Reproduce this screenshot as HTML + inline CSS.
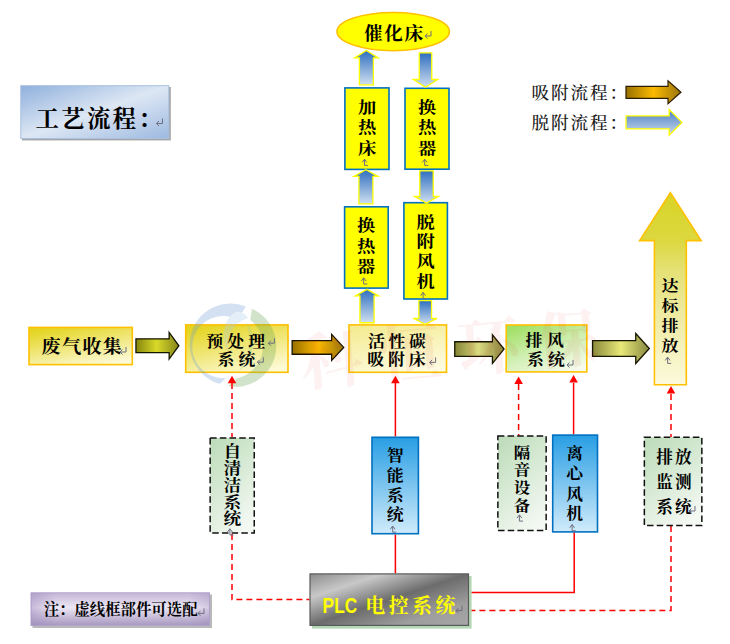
<!DOCTYPE html>
<html lang="zh-CN"><head><meta charset="utf-8"><title>工艺流程</title>
<style>
html,body{margin:0;padding:0;background:#fff}
svg{display:block}
.kai{font-family:"Liberation Serif","Noto Serif CJK SC",serif}
.song{font-family:"Liberation Serif","Noto Serif CJK SC",serif}
.sans{font-family:"Liberation Sans","Noto Sans CJK SC",sans-serif}
</style></head><body>
<svg width="730" height="644" viewBox="0 0 730 644">
<defs>
<linearGradient id="gTitle" x1="0" y1="0" x2="1" y2="1"><stop offset="0" stop-color="#8fb0dc"/><stop offset=".5" stop-color="#dde7f4"/><stop offset="1" stop-color="#9db9e0"/></linearGradient>
<linearGradient id="gYel" x1=".25" y1="0" x2=".75" y2="1"><stop offset="0" stop-color="#e4d522"/><stop offset="1" stop-color="#fdfad8"/></linearGradient>
<linearGradient id="gYel2" x1=".3" y1="0" x2=".7" y2="1"><stop offset="0" stop-color="#f4ec94"/><stop offset="1" stop-color="#fdfbe2"/></linearGradient>
<linearGradient id="gGrn" x1=".2" y1="0" x2=".8" y2="1"><stop offset="0" stop-color="#a2e066"/><stop offset=".5" stop-color="#d0efb2"/><stop offset="1" stop-color="#f6fbee"/></linearGradient>
<linearGradient id="gDash" x1=".25" y1="0" x2=".75" y2="1"><stop offset="0" stop-color="#c0debd"/><stop offset="1" stop-color="#f5f9f4"/></linearGradient>
<linearGradient id="gBlueBox" x1="0" y1="0" x2="0" y2="1"><stop offset="0" stop-color="#289ee4"/><stop offset="1" stop-color="#d0ebfb"/></linearGradient>
<linearGradient id="gOlive" x1="0" y1="0" x2="1" y2="0"><stop offset="0" stop-color="#85850c"/><stop offset=".48" stop-color="#d9d92a"/><stop offset="1" stop-color="#85851a"/></linearGradient>
<linearGradient id="gGold" x1="0" y1="0" x2="1" y2="0"><stop offset="0" stop-color="#987000"/><stop offset=".5" stop-color="#fbba00"/><stop offset="1" stop-color="#98740c"/></linearGradient>
<linearGradient id="gKhaki" x1="0" y1="0" x2="1" y2="0"><stop offset="0" stop-color="#848434"/><stop offset=".48" stop-color="#dada80"/><stop offset="1" stop-color="#86863e"/></linearGradient>
<linearGradient id="gKhaki2" x1="0" y1="0" x2="1" y2="0"><stop offset="0" stop-color="#8a8a3c"/><stop offset=".5" stop-color="#e8e878"/><stop offset="1" stop-color="#888842"/></linearGradient>
<linearGradient id="gUp" x1="0" y1="0" x2="0" y2="1"><stop offset="0" stop-color="#2f6fc0"/><stop offset="1" stop-color="#cfdff0"/></linearGradient>
<linearGradient id="gLegBlue" x1="0" y1="0" x2="0" y2="1"><stop offset="0" stop-color="#4a7fc4"/><stop offset="1" stop-color="#cbd9ec"/></linearGradient>
<linearGradient id="gBig" x1="0" y1="0" x2="0" y2="1"><stop offset="0" stop-color="#d8d426"/><stop offset=".25" stop-color="#dcd840"/><stop offset=".4" stop-color="#e5e174"/><stop offset=".6" stop-color="#ede99c"/><stop offset="1" stop-color="#fcfadc"/></linearGradient>
<linearGradient id="gPLC" x1="0" y1="0" x2="1" y2="1"><stop offset="0" stop-color="#8c8c8c"/><stop offset=".23" stop-color="#c8c8c8"/><stop offset=".5" stop-color="#6c6c6c"/><stop offset=".78" stop-color="#9e9e9e"/><stop offset="1" stop-color="#a6a6a6"/></linearGradient>
<linearGradient id="gNoteH" x1="0" y1="0" x2="1" y2="0"><stop offset="0" stop-color="#9a86ba" stop-opacity=".45"/><stop offset=".14" stop-color="#9a86ba" stop-opacity="0"/><stop offset=".88" stop-color="#9a86ba" stop-opacity="0"/><stop offset="1" stop-color="#9a86ba" stop-opacity=".3"/></linearGradient>
<linearGradient id="gNote" x1="0" y1="0" x2="0" y2="1"><stop offset="0" stop-color="#c3b6d6"/><stop offset=".45" stop-color="#ece7f4"/><stop offset="1" stop-color="#a797c0"/></linearGradient>
</defs>
<rect width="730" height="644" fill="#fff"/>

<rect x="22" y="87" width="148.8" height="53.4" fill="#7f7f7f" opacity=".7"/>
<rect x="20.8" y="85.7" width="148.00" height="52.80" fill="url(#gTitle)" stroke="#a9c0e0" stroke-width="1"/>
<text x="35.5" y="126.5" font-size="23.5" font-weight="700" fill="#000" text-anchor="start" class="kai" letter-spacing="2.2">工艺流程：</text>
<path d="M162.5 118.5V123.5H156.5M159.0 121.0L156.5 123.5L159.0 126.0" fill="none" stroke="#6e6e80" stroke-width="1"/>
<text x="531.5" y="98.8" font-size="17.6" font-weight="500" fill="#1a1a1a" text-anchor="start" class="song" letter-spacing="1.9">吸附流程：</text>
<text x="531.5" y="128.8" font-size="17.6" font-weight="500" fill="#1a1a1a" text-anchor="start" class="song" letter-spacing="1.9">脱附流程：</text>
<path d="M626.0 86.3H668.0V80.83L680.99 92.3L668.0 103.77V98.3H626.0Z" fill="url(#gGold)" stroke="#2a1c00" stroke-width="1.2" stroke-linejoin="miter"/>
<path d="M626.05 115.95H669.15V109.57000000000001L681.98 122.4L669.15 135.23000000000002V128.85H626.05Z" fill="url(#gLegBlue)" stroke="#ffff00" stroke-width="1.3" stroke-linejoin="miter"/>
<ellipse cx="393.2" cy="31.6" rx="56.2" ry="19.1" fill="#ffff00" stroke="#ffc000" stroke-width="1.6"/>
<text x="364" y="39.6" font-size="18.6" font-weight="700" fill="#000" text-anchor="start" class="kai" letter-spacing="1.6">催化床</text>
<path d="M431 31V36H425M427.5 33.5L425 36L427.5 38.5" fill="none" stroke="#6e6e80" stroke-width="1"/>
<rect x="344.9" y="87.9" width="44.10" height="81.50" fill="#ffff00" stroke="#0070c0" stroke-width="1.6"/>
<text transform="translate(367.0 0) scale(1.14 1)" font-size="16" font-weight="700" fill="#000" text-anchor="middle" class="kai"><tspan x="0" y="112.7">加</tspan><tspan x="0" y="133.1">热</tspan><tspan x="0" y="153.7">床</tspan></text><path d="M362.1 162.4L364.5 159.20000000000002L366.9 162.4M364.5 159.20000000000002V165.4H368.1" fill="none" stroke="#6e6e80" stroke-width="1"/>
<rect x="405.0" y="88.3" width="44.00" height="80.90" fill="#ffff00" stroke="#0070c0" stroke-width="1.6"/>
<text transform="translate(427.2 0) scale(1.14 1)" font-size="16" font-weight="700" fill="#000" text-anchor="middle" class="kai"><tspan x="0" y="112.7">换</tspan><tspan x="0" y="133.1">热</tspan><tspan x="0" y="153.7">器</tspan></text><path d="M422.3 162.4L424.7 159.20000000000002L427.09999999999997 162.4M424.7 159.20000000000002V165.4H428.3" fill="none" stroke="#6e6e80" stroke-width="1"/>
<rect x="344.6" y="206.8" width="43.60" height="81.30" fill="#ffff00" stroke="#0070c0" stroke-width="1.6"/>
<text transform="translate(366.2 0) scale(1.14 1)" font-size="16" font-weight="700" fill="#000" text-anchor="middle" class="kai"><tspan x="0" y="231.5">换</tspan><tspan x="0" y="251.9">热</tspan><tspan x="0" y="272.3">器</tspan></text><path d="M361.3 281.0L363.7 277.79999999999995L366.09999999999997 281.0M363.7 277.79999999999995V284.0H367.3" fill="none" stroke="#6e6e80" stroke-width="1"/>
<rect x="403.9" y="202.7" width="43.50" height="96.30" fill="#ffff00" stroke="#0070c0" stroke-width="1.6"/>
<text transform="translate(425.6 0) scale(1.14 1)" font-size="16" font-weight="700" fill="#000" text-anchor="middle" class="kai"><tspan x="0" y="227.7">脱</tspan><tspan x="0" y="247.1">附</tspan><tspan x="0" y="267.3">风</tspan><tspan x="0" y="286.9">机</tspan></text><path d="M420.70000000000005 295.6L423.1 292.4L425.5 295.6M423.1 292.4V298.6H426.70000000000005" fill="none" stroke="#6e6e80" stroke-width="1"/>
<rect x="29.0" y="327.4" width="103.30" height="37.20" fill="url(#gYel)" stroke="#ffc000" stroke-width="1.6"/>
<text transform="translate(41.4 353.4) scale(1.03 1)" font-size="18.6" font-weight="700" fill="#000" text-anchor="start" class="kai" letter-spacing="1.3">废气收集</text>
<path d="M126 347V352H120M122.5 349.5L120 352L122.5 354.5" fill="none" stroke="#6e6e80" stroke-width="1"/>
<rect x="185.7" y="324.9" width="102.30" height="47.40" fill="url(#gYel)" stroke="#ffc000" stroke-width="1.6"/>
<g opacity=".3"><path d="M245.9 306.6A40.8 40.8 0 1 0 220.0 383.8L225.9 377.9A31 31 0 1 1 237.8 319.6Z" fill="#6f9fd6"/><path d="M236 312C224 318 220 336 228 352C226 336 232 324 248 318C245 313 240 311 236 312Z" fill="#a9cdf0"/><path d="M251.9 308.7A40.8 40.8 0 0 1 228.2 386.2L236.9 378.3A33 33 0 0 0 250.3 320.0Z" fill="#6aa652"/><path d="M246 322C258 336 256 358 238 372C250 356 252 338 246 322Z" fill="#a4cc8c"/></g>
<text transform="translate(206.2 346.8) scale(1.08 1)" font-size="15.6" font-weight="700" fill="#000" text-anchor="start" class="kai" letter-spacing="3.85">预处理</text>
<text transform="translate(217.6 364.8) scale(1.08 1)" font-size="15.6" font-weight="700" fill="#000" text-anchor="start" class="kai" letter-spacing="3.85">系统</text>
<path d="M274.4 338.2V343.2H268.4M270.9 340.7L268.4 343.2L270.9 345.7" fill="none" stroke="#6e6e80" stroke-width="1"/>
<path d="M263.3 357.2V362.2H257.3M259.8 359.7L257.3 362.2L259.8 364.7" fill="none" stroke="#6e6e80" stroke-width="1"/>
<rect x="349.0" y="324.9" width="97.50" height="47.40" fill="url(#gYel2)" stroke="#ffc000" stroke-width="1.6"/>
<text transform="translate(367.9 346.8) scale(1.08 1)" font-size="15.6" font-weight="700" fill="#000" text-anchor="start" class="kai" letter-spacing="3.4">活性碳</text>
<text transform="translate(367.2 364.8) scale(1.08 1)" font-size="15.6" font-weight="700" fill="#000" text-anchor="start" class="kai" letter-spacing="3.6">吸附床</text>
<path d="M435.6 357.4V362.4H429.6M432.1 359.9L429.6 362.4L432.1 364.9" fill="none" stroke="#6e6e80" stroke-width="1"/>
<rect x="506.2" y="325.0" width="80.60" height="46.90" fill="url(#gGrn)" stroke="#ffc000" stroke-width="1.6"/>
<text transform="translate(525.6 346.4) scale(1.08 1)" font-size="15.6" font-weight="700" fill="#000" text-anchor="start" class="kai" letter-spacing="4.3">排风</text>
<text transform="translate(527 364.6) scale(1.08 1)" font-size="15.6" font-weight="700" fill="#000" text-anchor="start" class="kai" letter-spacing="3.85">系统</text>
<path d="M573 360V365H567M569.5 362.5L567 365L569.5 367.5" fill="none" stroke="#6e6e80" stroke-width="1"/>
<path d="M359.4 84.85V57.85H354.66999999999996L366.4 50.52L378.13 57.85H373.4V84.85Z" fill="url(#gUp)" stroke="#ffff00" stroke-width="1.3" stroke-linejoin="miter"/>
<path d="M419.25 52.85V79.5H413.25L425.5 87.23L437.75 79.5H431.75V52.85Z" fill="url(#gUp)" stroke="#ffff00" stroke-width="1.3" stroke-linejoin="miter"/>
<path d="M358.9 203.95V176.45H353.87L365.9 169.65L377.92999999999995 176.45H372.9V203.95Z" fill="url(#gUp)" stroke="#ffff00" stroke-width="1.3" stroke-linejoin="miter"/>
<path d="M419.75 170.85V196.35H414.64L426.5 203.15L438.36 196.35H433.25V170.85Z" fill="url(#gUp)" stroke="#ffff00" stroke-width="1.3" stroke-linejoin="miter"/>
<path d="M359.9 322.75V295.85H355.47L367 289.35L378.53 295.85H374.1V322.75Z" fill="url(#gUp)" stroke="#ffff00" stroke-width="1.3" stroke-linejoin="miter"/>
<path d="M418.84999999999997 300.65V318.45H413.31L425.2 324.37L437.09 318.45H431.55V300.65Z" fill="url(#gUp)" stroke="#ffff00" stroke-width="1.3" stroke-linejoin="miter"/>
<path d="M135.95 338.8H169.15V332.44L178.89 345.75L169.15 359.06V352.7H135.95Z" fill="url(#gOlive)" stroke="#151500" stroke-width="1.3" stroke-linejoin="miter"/>
<path d="M292.15 340.54999999999995H331.65V334.35999999999996L343.71 347.4L331.65 360.44V354.25H292.15Z" fill="url(#gGold)" stroke="#1c1400" stroke-width="1.3" stroke-linejoin="miter"/>
<path d="M454.75 341.75H492.45V334.83000000000004L504.06 349.1L492.45 363.37V356.45000000000005H454.75Z" fill="url(#gKhaki)" stroke="#151500" stroke-width="1.3" stroke-linejoin="miter"/>
<path d="M592.55 340.55H635.75V333.44L649.32 348.5L635.75 363.56V356.45H592.55Z" fill="url(#gKhaki2)" stroke="#151500" stroke-width="1.3" stroke-linejoin="miter"/>
<path d="M654.4 384.8V240.6H639.6L670.4 192.8L701.2 240.6H686.3V384.8Z" fill="url(#gBig)" stroke="#ffc000" stroke-width="1.6" stroke-linejoin="miter"/>
<text transform="translate(670.1 0) scale(1.12 1)" font-size="15.2" font-weight="700" fill="#000" text-anchor="middle" class="kai"><tspan x="0" y="291.4">达</tspan><tspan x="0" y="311.2">标</tspan><tspan x="0" y="330.6">排</tspan><tspan x="0" y="350.8">放</tspan></text><path d="M665.2 360.40000000000003L667.6 357.2L670.0 360.40000000000003M667.6 357.2V363.40000000000003H671.2" fill="none" stroke="#6e6e80" stroke-width="1"/>
<g fill="none" stroke="#ff0000" stroke-width="1.5">
<path d="M232 383V437M232 534V599.6H309.4" stroke-dasharray="6 4"/>
<path d="M395.4 383V436.5M395.4 534.5V573.3"/>
<path d="M518.6 384V436" stroke-dasharray="6 4"/>
<path d="M573.6 383V434.3M574.2 532.3V592.4H469"/>
<path d="M671 394V437M671 526V610.4H469" stroke-dasharray="6 4"/>
</g>
<path d="M232 375.8L227.7 383.3H236.3Z" fill="#ff0000"/>
<path d="M395.4 375.8L391.09999999999997 383.3H399.7Z" fill="#ff0000"/>
<path d="M518.6 376.4L514.3000000000001 383.9H522.9Z" fill="#ff0000"/>
<path d="M573.6 375L569.3000000000001 382.5H577.9Z" fill="#ff0000"/>
<path d="M671 386L666.7 393.5H675.3Z" fill="#ff0000"/>
<rect x="210.15" y="437.95" width="44.10" height="95.00" fill="url(#gDash)" stroke="#111" stroke-width="1.5" stroke-dasharray="6.5 3.2"/>
<text transform="translate(232.4 0) scale(1.15 1)" font-size="15.4" font-weight="700" fill="#000" text-anchor="middle" class="kai"><tspan x="0" y="457.5">自</tspan><tspan x="0" y="474.1">清</tspan><tspan x="0" y="490.7">洁</tspan><tspan x="0" y="508.3">系</tspan><tspan x="0" y="524.4">统</tspan></text><path d="M227.5 532.0000000000001L229.9 528.8000000000001L232.3 532.0000000000001M229.9 528.8000000000001V535.0000000000001H233.5" fill="none" stroke="#6e6e80" stroke-width="1"/>
<rect x="372.0" y="437.3" width="46.40" height="96.40" fill="url(#gBlueBox)" stroke="#0070c0" stroke-width="1.6"/>
<text transform="translate(395.2 0) scale(1.06 1)" font-size="16" font-weight="700" fill="#000" text-anchor="middle" class="kai"><tspan x="0" y="461.1">智</tspan><tspan x="0" y="480.7">能</tspan><tspan x="0" y="500.9">系</tspan><tspan x="0" y="520.5">统</tspan></text><path d="M390.3 529.2L392.7 526.0L395.09999999999997 529.2M392.7 526.0V532.2H396.3" fill="none" stroke="#6e6e80" stroke-width="1"/>
<rect x="497.85" y="436.05" width="48.30" height="94.40" fill="url(#gDash)" stroke="#111" stroke-width="1.5" stroke-dasharray="6.5 3.2"/>
<text transform="translate(521.9 0) scale(1.1 1)" font-size="15" font-weight="700" fill="#000" text-anchor="middle" class="kai"><tspan x="0" y="457.6">隔</tspan><tspan x="0" y="475.2">音</tspan><tspan x="0" y="493.4">设</tspan><tspan x="0" y="511.1">备</tspan></text><path d="M517.0 518.1L519.4 514.9L521.8 518.1M519.4 514.9V521.1H523.0" fill="none" stroke="#6e6e80" stroke-width="1"/>
<rect x="552.7" y="435.1" width="44.80" height="96.80" fill="url(#gBlueBox)" stroke="#0070c0" stroke-width="1.6"/>
<text transform="translate(574.6 0) scale(1.08 1)" font-size="15.5" font-weight="700" fill="#000" text-anchor="middle" class="kai"><tspan x="0" y="459.0">离</tspan><tspan x="0" y="479.2">心</tspan><tspan x="0" y="500.0">风</tspan><tspan x="0" y="519.1">机</tspan></text><path d="M569.7 527.75L572.1 524.55L574.5 527.75M572.1 524.55V530.75H575.7" fill="none" stroke="#6e6e80" stroke-width="1"/>
<rect x="644.35" y="437.25" width="57.50" height="88.20" fill="url(#gDash)" stroke="#111" stroke-width="1.5" stroke-dasharray="6.5 3.2"/>
<text x="656.3" y="462.6" font-size="16.6" font-weight="700" fill="#000" text-anchor="start" class="kai" letter-spacing="2.1">排放</text>
<text x="656.3" y="488" font-size="16.6" font-weight="700" fill="#000" text-anchor="start" class="kai" letter-spacing="2.1">监测</text>
<text x="656.3" y="513" font-size="16.6" font-weight="700" fill="#000" text-anchor="start" class="kai" letter-spacing="2.1">系统</text>
<path d="M695 506V511H689M691.5 508.5L689 511L691.5 513.5" fill="none" stroke="#6e6e80" stroke-width="1"/>
<rect x="312" y="576" width="159.6" height="52.6" fill="#b4d8b4"/>
<rect x="310.0" y="573.9" width="158.50" height="51.50" fill="url(#gPLC)" stroke="#5a5a5a" stroke-width="1.2"/>
<text x="322.6" y="613.2" font-size="20" font-weight="700" fill="#ffff00" class="kai"><tspan class="sans" font-size="21.4" textLength="34.6" lengthAdjust="spacingAndGlyphs">PLC</tspan><tspan x="365.3" letter-spacing="3.4">电控系统</tspan></text>
<path d="M462 605.6V610.6H456M458.5 608.1L456 610.6L458.5 613.1" fill="none" stroke="#6e6e80" stroke-width="1"/>
<rect x="32.5" y="594.5" width="179.5" height="33.5" fill="#8a8a8a" opacity=".6"/>
<rect x="31.0" y="592.8" width="178.50" height="32.70" fill="url(#gNote)" stroke="#b3a6cc" stroke-width="1"/>
<rect x="31" y="592.8" width="178.5" height="32.7" fill="url(#gNoteH)"/>
<text x="120.6" y="615.2" font-size="15.4" font-weight="700" fill="#000" text-anchor="middle" class="kai">注：虚线框部件可选配</text>
<path d="M204 608.4V613.4H198M200.5 610.9L198 613.4L200.5 615.9" fill="none" stroke="#6e6e80" stroke-width="1"/>
<g opacity=".06" transform="rotate(-5 455 350)"><text x="458" y="372" font-size="62" font-weight="700" fill="#e02020" text-anchor="middle" class="kai" letter-spacing="17">科恒环保</text></g>
</svg>
</body></html>
